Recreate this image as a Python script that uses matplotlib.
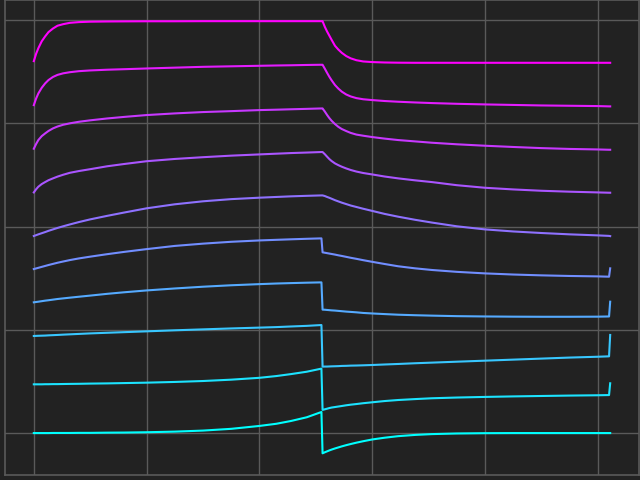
import numpy as np
import matplotlib
matplotlib.use('Agg')
import matplotlib.pyplot as plt

# sample positions shared by all curves (jump at 256, hook at 511)
x_pts = [0, 2, 4, 7, 10, 13, 17, 21, 26, 32, 40, 50, 65, 80, 100, 125, 150, 175, 200, 215, 228, 242, 255,
         256, 258, 260, 262, 264, 267, 270, 273, 277, 281, 286, 292, 300, 311, 323, 338, 353, 375, 400, 425,
         450, 475, 500, 510, 511]

# curves, bottom (cyan) to top (magenta)
c0 = [0.002, 0.002, 0.002, 0.002, 0.002, 0.002, 0.003, 0.003, 0.003, 0.003, 0.004, 0.004, 0.006, 0.007, 0.010,
      0.016, 0.026, 0.043, 0.071, 0.092, 0.119, 0.155, 0.206,
      -0.194, -0.184, -0.175, -0.166, -0.158, -0.147, -0.137, -0.127, -0.115, -0.104, -0.091, -0.077, -0.060,
      -0.043, -0.028, -0.016, -0.008, -0.002, 0.001, 0.002, 0.002, 0.002, 0.002, 0.002, 0.002]
c1 = [0.474, 0.474, 0.474, 0.474, 0.475, 0.475, 0.476, 0.476, 0.477, 0.478, 0.479, 0.481, 0.483, 0.486, 0.490,
      0.497, 0.506, 0.519, 0.537, 0.554, 0.573, 0.596, 0.626,
      0.226, 0.232, 0.238, 0.244, 0.249, 0.254, 0.259, 0.264, 0.271, 0.277, 0.283, 0.291, 0.300, 0.312, 0.322,
      0.331, 0.339, 0.346, 0.352, 0.357, 0.361, 0.365, 0.368, 0.370, 0.484]
c2 = [0.942, 0.943, 0.944, 0.945, 0.946, 0.948, 0.950, 0.952, 0.955, 0.958, 0.962, 0.967, 0.973, 0.979, 0.987,
      0.997, 1.006, 1.015, 1.023, 1.028, 1.034, 1.040, 1.048,
      0.645, 0.646, 0.646, 0.647, 0.648, 0.649, 0.650, 0.652, 0.653, 0.655, 0.656, 0.658, 0.661, 0.666, 0.671,
      0.678, 0.684, 0.693, 0.703, 0.713, 0.723, 0.733, 0.741, 0.745, 0.952]
c3 = [1.268, 1.271, 1.274, 1.279, 1.284, 1.288, 1.294, 1.300, 1.306, 1.313, 1.322, 1.333, 1.350, 1.365, 1.383,
      1.402, 1.419, 1.433, 1.444, 1.450, 1.454, 1.458, 1.461,
      1.197, 1.196, 1.194, 1.192, 1.190, 1.188, 1.185, 1.182, 1.178, 1.175, 1.171, 1.165, 1.160, 1.154, 1.148,
      1.143, 1.139, 1.134, 1.131, 1.129, 1.128, 1.128, 1.129, 1.131, 1.274]
c4 = [1.590, 1.596, 1.602, 1.611, 1.620, 1.629, 1.640, 1.651, 1.663, 1.677, 1.693, 1.710, 1.734, 1.756, 1.783,
      1.814, 1.836, 1.854, 1.867, 1.873, 1.878, 1.883, 1.887,
      1.752, 1.748, 1.744, 1.740, 1.736, 1.730, 1.723, 1.717, 1.708, 1.699, 1.689, 1.676, 1.660, 1.639, 1.617,
      1.597, 1.581, 1.563, 1.548, 1.537, 1.529, 1.523, 1.519, 1.516, 1.597]
c5 = [1.910, 1.918, 1.926, 1.937, 1.948, 1.960, 1.974, 1.988, 2.004, 2.022, 2.045, 2.071, 2.105, 2.137, 2.178,
      2.217, 2.246, 2.267, 2.281, 2.288, 2.294, 2.299, 2.303,
      2.303, 2.297, 2.288, 2.280, 2.271, 2.257, 2.245, 2.233, 2.219, 2.205, 2.191, 2.174, 2.153, 2.124, 2.097,
      2.067, 2.040, 2.004, 1.974, 1.954, 1.939, 1.926, 1.916, 1.911, 1.909]
c6 = [2.332, 2.362, 2.387, 2.413, 2.432, 2.450, 2.468, 2.485, 2.503, 2.522, 2.539, 2.557, 2.585, 2.607, 2.634,
      2.656, 2.673, 2.688, 2.700, 2.707, 2.713, 2.718, 2.723,
      2.723, 2.702, 2.678, 2.655, 2.636, 2.613, 2.596, 2.581, 2.564, 2.549, 2.534, 2.520, 2.506, 2.486, 2.468,
      2.449, 2.432, 2.402, 2.377, 2.361, 2.348, 2.339, 2.332, 2.329, 2.329]
c7 = [2.755, 2.800, 2.839, 2.877, 2.903, 2.927, 2.952, 2.970, 2.987, 3.001, 3.016, 3.030, 3.048, 3.063, 3.081,
      3.097, 3.110, 3.119, 3.129, 3.133, 3.137, 3.141, 3.145,
      3.145, 3.115, 3.082, 3.052, 3.026, 2.994, 2.967, 2.946, 2.926, 2.908, 2.892, 2.881, 2.868, 2.853, 2.839,
      2.826, 2.813, 2.798, 2.784, 2.772, 2.761, 2.753, 2.748, 2.745, 2.745]
c8 = [3.177, 3.240, 3.290, 3.345, 3.387, 3.420, 3.450, 3.470, 3.485, 3.496, 3.506, 3.513, 3.520, 3.525, 3.532,
      3.540, 3.548, 3.553, 3.558, 3.561, 3.563, 3.566, 3.568,
      3.568, 3.530, 3.490, 3.452, 3.418, 3.372, 3.337, 3.308, 3.280, 3.261, 3.245, 3.234, 3.226, 3.217, 3.210,
      3.203, 3.197, 3.190, 3.184, 3.179, 3.174, 3.171, 3.168, 3.165, 3.165]
c9 = [3.603, 3.673, 3.728, 3.795, 3.842, 3.884, 3.919, 3.946, 3.961, 3.974, 3.981, 3.985, 3.987, 3.988, 3.989,
      3.989, 3.990, 3.990, 3.990, 3.990, 3.990, 3.990, 3.990,
      3.990, 3.935, 3.890, 3.850, 3.810, 3.752, 3.715, 3.684, 3.652, 3.630, 3.612, 3.600, 3.594, 3.590, 3.588,
      3.587, 3.587, 3.587, 3.587, 3.587, 3.587, 3.587, 3.587, 3.587, 3.587]

curves = [c0, c1, c2, c3, c4, c5, c6, c7, c8, c9]

bg = '#222222'
gray = '#5a5a5a'

fig = plt.figure(figsize=(6.4, 4.8), dpi=100, facecolor=bg)
ax = fig.add_axes([5/640, 5/480, 634/640, 475/480], facecolor=bg)

cmap = plt.get_cmap('cool')
for i, c in enumerate(curves):
    ax.plot(x_pts, c, color=cmap(i/(len(curves)-1)), lw=1.5)

ax.set_xlim(-25.55, 536.55)
ax.set_ylim(-0.404, 4.195)
ax.set_xticks([0, 100, 200, 300, 400, 500])
ax.set_yticks([0, 1, 2, 3, 4])
ax.tick_params(length=0, labelleft=False, labelbottom=False)
ax.grid(True, color=gray, lw=1)
ax.set_axisbelow(True)
for s in ax.spines.values():
    s.set_color(gray)
    s.set_linewidth(1.2)

fig.savefig('out.png', facecolor=bg)
